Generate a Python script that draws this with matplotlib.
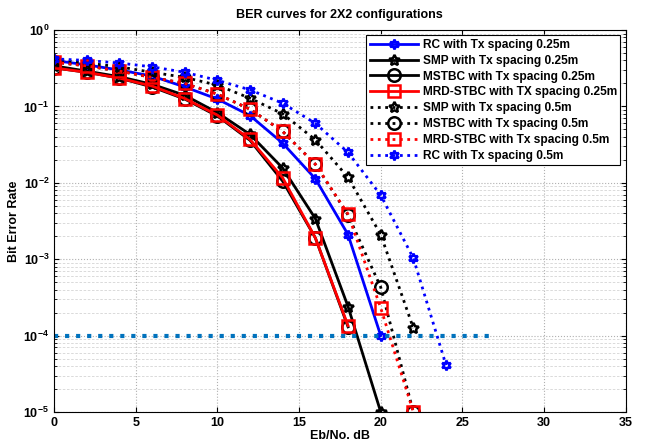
import numpy as np
import matplotlib
matplotlib.use('Agg')
import matplotlib.pyplot as plt

plt.rcParams['font.family'] = ['Liberation Sans', 'DejaVu Sans']
plt.rcParams['font.weight'] = 'bold'

# Eb/No (dB) points per curve
SNR_ATE_18 = [0, 2, 4, 6, 8, 10, 12, 14, 16, 18]
SNR_ATE_20 = [0, 2, 4, 6, 8, 10, 12, 14, 16, 18, 20]
SNR_ATE_22 = [0, 2, 4, 6, 8, 10, 12, 14, 16, 18, 20, 22]
SNR_ATE_24 = [0, 2, 4, 6, 8, 10, 12, 14, 16, 18, 20, 22, 24]

# BER, Tx spacing 0.25m
BER_RC_025 = [0.40, 0.35, 0.30, 0.25, 0.18, 0.125, 0.076, 0.033, 0.0113, 0.0021, 1.0e-4]
BER_SMP_025 = [0.34, 0.29, 0.245, 0.195, 0.14, 0.083, 0.043, 0.0156, 0.0034, 0.00024, 1.0e-5]
BER_MSTBC_025 = [0.32, 0.28, 0.235, 0.18, 0.125, 0.075, 0.036, 0.0105, 0.0019, 0.00013]
BER_MRD_025 = [0.32, 0.28, 0.235, 0.185, 0.127, 0.077, 0.037, 0.0116, 0.0019, 0.000135]

# BER, Tx spacing 0.5m
BER_SMP_05 = [0.41, 0.37, 0.33, 0.28, 0.24, 0.19, 0.128, 0.080, 0.0366, 0.0118, 0.0021, 0.000125]
BER_MSTBC_05 = [0.38, 0.34, 0.29, 0.24, 0.20, 0.145, 0.092, 0.047, 0.0175, 0.0038, 0.00043, 1.0e-5]
BER_MRD_05 = [0.38, 0.34, 0.29, 0.24, 0.20, 0.145, 0.092, 0.047, 0.0175, 0.0039, 0.00023, 1.0e-5]
BER_RC_05 = [0.42, 0.40, 0.37, 0.33, 0.28, 0.22, 0.165, 0.11, 0.06, 0.025, 0.0069, 0.00103, 4.1e-5]

LIMIAR_BER = 1e-4
LIMIAR_X = [0, 27]

HEXAGRAMA = (6, 1, 0)
PENTAGRAMA = (5, 1, 0)

CURVAS = [
    (SNR_ATE_20, BER_RC_025, 'RC with Tx spacing 0.25m', 'b', '-', HEXAGRAMA, 7),
    (SNR_ATE_20, BER_SMP_025, 'SMP with Tx spacing 0.25m', 'k', '-', PENTAGRAMA, 8),
    (SNR_ATE_18, BER_MSTBC_025, 'MSTBC with Tx spacing 0.25m', 'k', '-', 'o', 9),
    (SNR_ATE_18, BER_MRD_025, 'MRD-STBC with TX spacing 0.25m', 'r', '-', 's', 9),
    (SNR_ATE_22, BER_SMP_05, 'SMP with Tx spacing 0.5m', 'k', ':', PENTAGRAMA, 8),
    (SNR_ATE_22, BER_MSTBC_05, 'MSTBC with Tx spacing 0.5m', 'k', ':', 'o', 9),
    (SNR_ATE_22, BER_MRD_05, 'MRD-STBC with Tx spacing 0.5m', 'r', ':', 's', 9),
    (SNR_ATE_24, BER_RC_05, 'RC with Tx spacing 0.5m', 'b', ':', HEXAGRAMA, 7),
]

fig = plt.figure(figsize=(6.46, 4.42), dpi=100)
ax = fig.add_axes([0.0836, 0.068, 0.885, 0.864])

for x, y, rotulo, cor, estilo, marcador, tam in CURVAS:
    ax.semilogy(x, y, color=cor, linestyle=estilo, linewidth=2, marker=marcador,
                markersize=tam, markerfacecolor='none', markeredgewidth=1.8, label=rotulo)

ax.semilogy(LIMIAR_X, [LIMIAR_BER, LIMIAR_BER], color='#0072BD', linestyle=':', linewidth=3)

ax.set_xlim(0, 35)
ax.set_ylim(1e-5, 1)
ax.set_xticks(range(0, 36, 5))
ax.grid(True, which='major', linestyle=':', color='#b0b0b0', linewidth=0.8)
ax.grid(True, which='minor', axis='y', linestyle=(0, (3, 2)), color='#d4d4d4', linewidth=0.6)
ax.tick_params(labelsize=9, direction='in', which='both', top=True, right=True)
for lab in ax.get_xticklabels() + ax.get_yticklabels():
    lab.set_fontweight('bold')

ax.set_title('BER curves for 2X2 configurations', fontsize=9, fontweight='bold', pad=9)
ax.set_xlabel('Eb/No. dB', fontsize=9, fontweight='bold', labelpad=1)
ax.set_ylabel('Bit Error Rate', fontsize=9, fontweight='bold', labelpad=2)

leg = ax.legend(loc='upper right', fontsize=8.6, framealpha=1, fancybox=False,
                edgecolor='k', borderpad=0.3, labelspacing=0.32, handlelength=4.0,
                handletextpad=0.4, borderaxespad=0.45)
leg.get_frame().set_linewidth(0.8)

fig.savefig('out.png', dpi=100)
